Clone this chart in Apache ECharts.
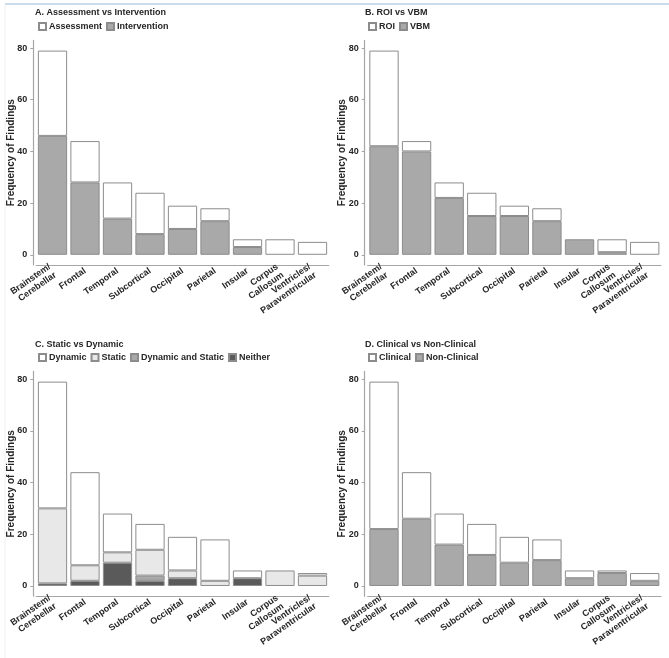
<!DOCTYPE html>
<html>
<head>
<meta charset="utf-8">
<script src="https://cdn.jsdelivr.net/npm/echarts@6/dist/echarts.min.js"></script>
<style>
  html, body { margin: 0; padding: 0; background: #fff; }
  #chart { width: 669px; height: 658px; }
</style>
</head>
<body>
<div id="chart"></div>
<script>
// categories (brain regions)
const categories = ['Brainstem/\nCerebellar', 'Frontal', 'Temporal', 'Subcortical', 'Occipital',
  'Parietal', 'Insular', 'Corpus\nCallosum', 'Ventricles/\nParaventricular'];
const yTicks = [0, 20, 40, 60, 80];

// A. Assessment vs Intervention
const intervention = [46, 28, 14, 8, 10, 13, 3, 0, 0];
const assessment = [33, 16, 14, 16, 9, 5, 3, 6, 5];
// B. ROI vs VBM
const vbm = [42, 40, 22, 15, 15, 13, 6, 1, 0];
const roi = [37, 4, 6, 9, 4, 5, 0, 5, 5];
// C. Static vs Dynamic
const neither = [1, 2, 9, 2, 3, 0, 3, 0, 0];
const dynamicAndStatic = [0, 0, 0, 2, 0, 0, 0, 0, 0];
const staticVals = [29, 6, 4, 10, 3, 2, 0, 6, 4];
const dynamicVals = [49, 36, 15, 10, 13, 16, 3, 0, 1];
// D. Clinical vs Non-Clinical
const nonClinical = [22, 26, 16, 12, 9, 10, 3, 5, 2];
const clinical = [57, 18, 12, 12, 10, 8, 3, 1, 3];

const FONT = 'Liberation Sans, Arial, sans-serif';
const TXT = '#262626';
const AXIS = '#a6a6a6';
const BORDER = '#8c8c8c';

// panel layout (ggplot style: y expands 5% either side)
const panels = [
  { title: 'A. Assessment vs Intervention', tx: 35, ty: 8, lx: 38, ly: 22,
    grid: { left: 36.25, width: 292.5, top: 40.4, height: 224.6 },
    series: [['Intervention', intervention, '#a9a9a9'], ['Assessment', assessment, '#ffffff']],
    legend: ['Assessment', 'Intervention'] },
  { title: 'B. ROI vs VBM', tx: 365, ty: 8, lx: 368, ly: 22,
    grid: { left: 367.7, width: 293.3, top: 40.4, height: 224.6 },
    series: [['VBM', vbm, '#a9a9a9'], ['ROI', roi, '#ffffff']],
    legend: ['ROI', 'VBM'] },
  { title: 'C. Static vs Dynamic', tx: 35, ty: 340, lx: 38, ly: 353,
    grid: { left: 36.25, width: 292.5, top: 371.4, height: 224.8 },
    series: [['Neither', neither, '#5a5a5a'], ['Dynamic and Static', dynamicAndStatic, '#a9a9a9'],
      ['Static', staticVals, '#e8e8e8'], ['Dynamic', dynamicVals, '#ffffff']],
    legend: ['Dynamic', 'Static', 'Dynamic and Static', 'Neither'] },
  { title: 'D. Clinical vs Non-Clinical', tx: 365, ty: 340, lx: 368, ly: 353,
    grid: { left: 367.7, width: 293.3, top: 371.4, height: 224.8 },
    series: [['Non-Clinical', nonClinical, '#a9a9a9'], ['Clinical', clinical, '#ffffff']],
    legend: ['Clinical', 'Non-Clinical'] }
];

const chart = echarts.init(document.getElementById('chart'), null, { renderer: 'canvas' });

const option = {
  animation: false,
  backgroundColor: '#fff',
  textStyle: { fontFamily: FONT },
  title: [], legend: [], grid: [], xAxis: [], yAxis: [], series: [],
  graphic: [
    { type: 'line', shape: { x1: 5, y1: 4, x2: 669, y2: 4 }, style: { stroke: '#b9cfe6', lineWidth: 1.5 } },
    { type: 'line', shape: { x1: 5, y1: 4, x2: 5, y2: 658 }, style: { stroke: '#f0f0f0', lineWidth: 1 } }
  ]
};

panels.forEach((p, i) => {
  option.title.push({
    text: p.title, left: p.tx, top: p.ty, padding: 0,
    textStyle: { fontSize: 9, fontWeight: 'bold', color: TXT, fontFamily: FONT }
  });
  option.legend.push({
    data: p.legend, left: p.lx, top: p.ly, padding: 0, itemGap: 4,
    itemWidth: 7, itemHeight: 7, icon: 'rect',
    textStyle: { fontSize: 9, fontWeight: 'bold', color: TXT, fontFamily: FONT, padding: [0, 0, 0, -2] },
    selectedMode: false
  });
  option.grid.push(p.grid);
  option.xAxis.push({
    type: 'category', gridIndex: i, data: categories,
    axisLine: { onZero: false, lineStyle: { color: AXIS, width: 1.2 } },
    axisTick: { alignWithLabel: true, length: 3, lineStyle: { color: AXIS } },
    axisLabel: { rotate: 35, interval: 0, margin: 5, fontSize: 9, fontWeight: 'bold',
      color: TXT, fontFamily: FONT, lineHeight: 10 }
  });
  option.yAxis.push({
    type: 'value', gridIndex: i, min: -3.95, max: 82.95, offset: 3,
    name: 'Frequency of Findings', nameLocation: 'middle', nameGap: 17, nameMoveOverlap: false,
    nameTextStyle: { fontSize: 10, fontWeight: 'bold', color: TXT, fontFamily: FONT },
    splitLine: { show: false },
    axisLine: { show: true, lineStyle: { color: AXIS, width: 1.2 } },
    axisTick: { show: true, length: 3, customValues: yTicks, lineStyle: { color: AXIS } },
    axisLabel: { customValues: yTicks, margin: 6, fontSize: 9, fontWeight: 'bold', color: TXT, fontFamily: FONT }
  });
  p.series.forEach(([name, vals, color]) => {
    option.series.push({
      type: 'bar', name, stack: 'p' + i, xAxisIndex: i, yAxisIndex: i,
      data: vals.map(v => (v === 0 ? '-' : v)),
      barWidth: '90%',
      itemStyle: { color, borderColor: BORDER, borderWidth: 1 }
    });
  });
});

chart.setOption(option);
</script>
</body>
</html>
